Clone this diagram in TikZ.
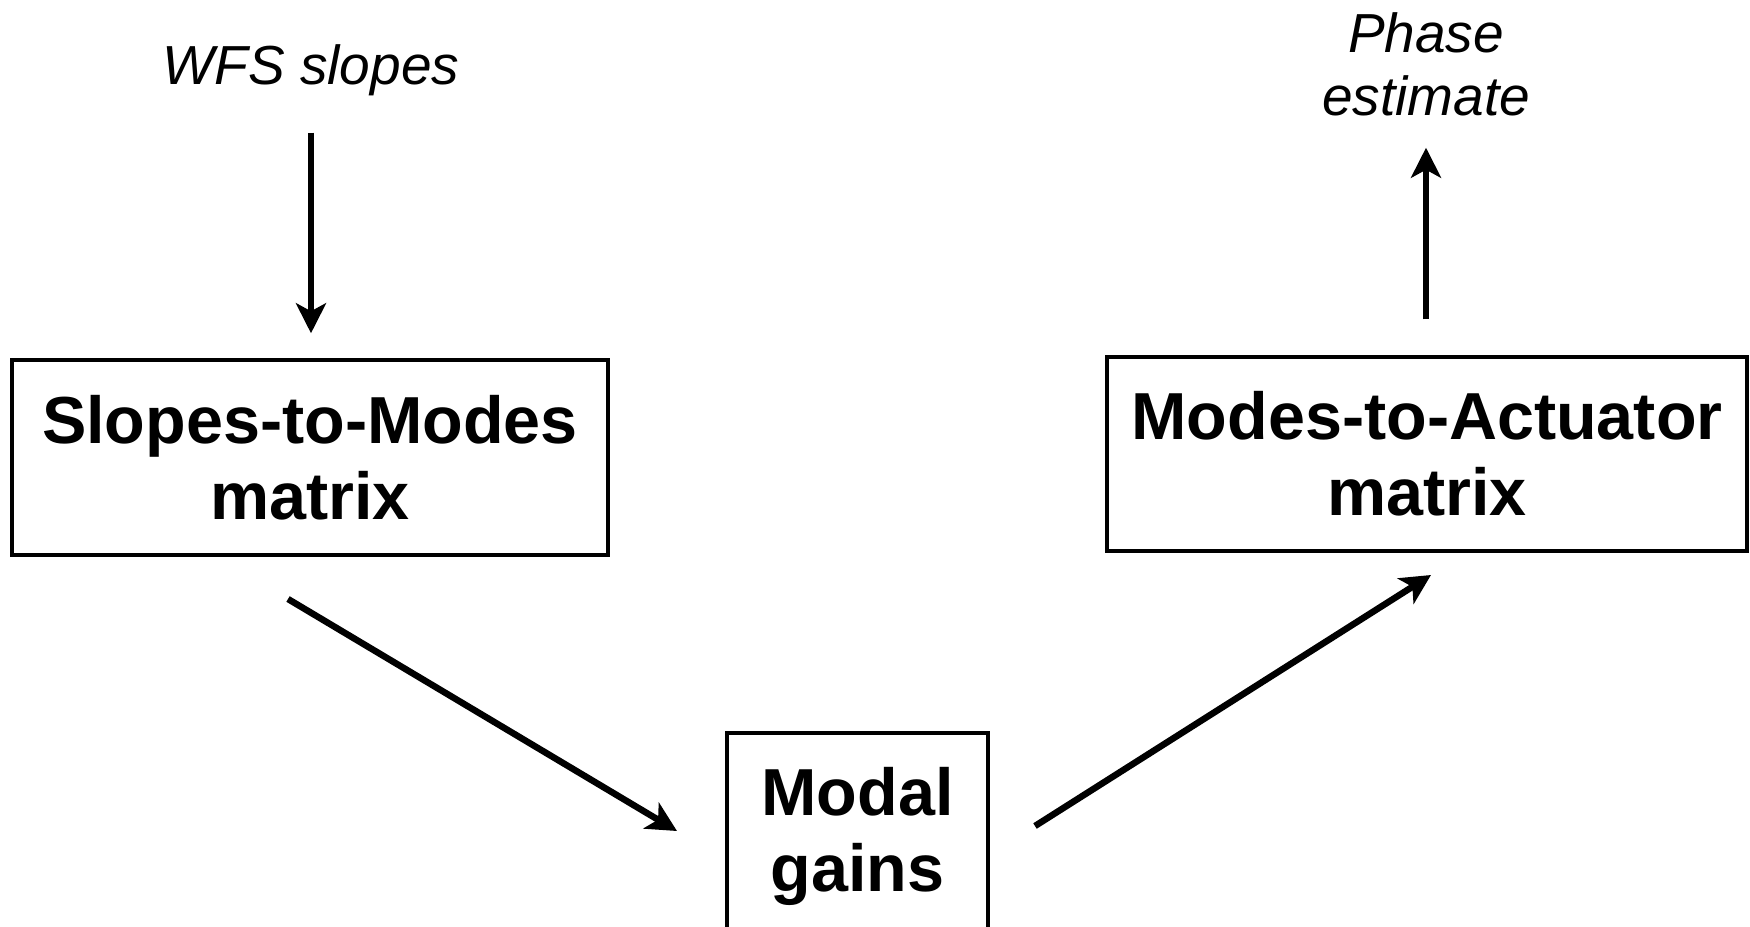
\documentclass[tikz,border=0pt]{standalone}
\usepackage{fontspec}
\setmainfont{Liberation Sans}
\usetikzlibrary{arrows.meta}
\begin{document}
\begin{tikzpicture}[x=1pt,y=-1pt,
  box/.style={draw, line width=3.5pt, inner sep=0pt, align=center,
    font=\fontsize{66.5}{76}\selectfont\bfseries},
  lbl/.style={inner sep=0pt, align=center,
    font=\fontsize{55}{63}\selectfont\itshape},
  arr/.style={line width=6.5pt, -{Stealth[length=30pt,width=30pt,inset=8pt]}}]
\useasboundingbox (0,0) rectangle (1750,926);
\node[box, minimum width=596pt, minimum height=195pt] (s2m) at (310,457.5) {Slopes-to-Modes\\matrix};
\node[box, minimum width=640pt, minimum height=194pt] (m2a) at (1427,454) {Modes-to-Actuator\\matrix};
\node[box, minimum width=261pt, minimum height=206pt] (mg) at (857.5,836) {Modal\\gains};
\node[lbl, anchor=base] (wfs) at (311,84) {WFS slopes};
\node[lbl, anchor=base] (phase) at (1426,115) {Phase\\estimate};
\coordinate (d1s) at (288,599);
\coordinate (d1e) at (677,831);
\coordinate (d2s) at (1035,826);
\coordinate (d2e) at (1431,575);
\draw[arr, shorten <=37pt, shorten >=25pt] (wfs.south) -- (wfs.south |- s2m.north);
\draw[arr, shorten <=36pt, shorten >=32pt] (phase.south |- m2a.north) -- (phase.south);
\draw[arr] (d1s) -- (d1e);
\draw[arr] (d2s) -- (d2e);
\end{tikzpicture}
\end{document}
